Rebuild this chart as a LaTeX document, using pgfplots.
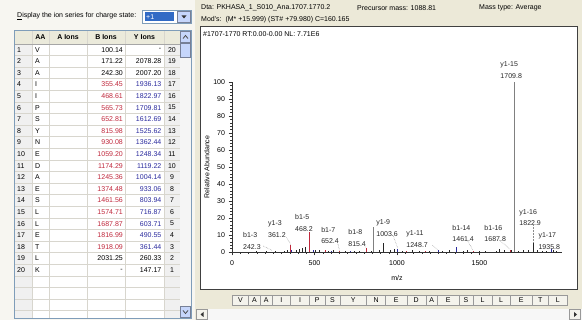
\documentclass[border=0pt]{standalone}
\usepackage{pgfplots}
\pgfplotsset{compat=1.18}
\usepackage{fontspec}
\setmainfont{Liberation Sans}
\definecolor{xpbg}{HTML}{ECE9D8}
\definecolor{leftbg}{HTML}{F7F6F1}
\definecolor{bred}{HTML}{C0283C}
\definecolor{yblue}{HTML}{2B2B9E}
\definecolor{gridc}{HTML}{D8D6CE}
\definecolor{hdr}{HTML}{EBEADB}
\definecolor{xpblue}{HTML}{C6D6FB}
\definecolor{xpborder}{HTML}{7F9DB9}
\definecolor{selblue}{HTML}{316AC5}
\definecolor{btn}{HTML}{F4F3EC}
\newcommand\fs{\fontsize{7}{8.5}\selectfont}
\tikzset{
  pklabel/.style={anchor=west, align=left, inner sep=0pt, font=\fontsize{7}{11.5}\selectfont, text=black!85},
  leader/.style={densely dotted, black!45, line width=0.5pt},
}
\newcommand\seqbtn[3]{%
  \draw[fill=btn, draw=black!40] (axis cs:#1,-25.3) rectangle (axis cs:#2,-31.4);
  \node[inner sep=0pt, font=\fs] at (axis cs:{(#1+#2)/2},-28.3) {#3};}
\begin{document}
\begin{tikzpicture}[font=\fs]
\begin{scope}[x=1pt,y=-1pt,every node/.style={inner sep=0pt}]
\path[use as bounding box] (0,0) rectangle (582,320);
% panels
\fill[leftbg] (0,0) rectangle (195,320);
\fill[xpbg] (195,0) rectangle (582,320);
% left header text and dropdown
\node[anchor=west] at (17,16) {\underline{D}isplay the ion series for charge state:};
\draw[xpborder, fill=white] (142.5,10.5) rectangle (191.5,23.5);
\fill[selblue] (144.5,12.5) rectangle (174,21.5);
\node[anchor=west, text=white] at (146,17) {+1};
\draw[fill=xpblue, draw=xpblue!60!black] (177.5,11.5) rectangle (190.5,22.5);
\fill[black!80] (181.5,15.5) -- (186.5,15.5) -- (184,18.5) -- cycle;
% table
\fill[white] (15,31) rectangle (180,318);
\fill[hdr] (15,31) rectangle (180,43.8);
\fill[black!6] (15,43.8) rectangle (32,318);
\fill[black!6] (164,43.8) rectangle (180,318);
\foreach \i in {0,...,23} \draw[gridc] (15,{43.8+\i*11.6}) -- (180,{43.8+\i*11.6});
\foreach \xx in {32,49,87,125,164} \draw[gridc] (\xx,31) -- (\xx,318);
\draw[black!35] (15,43.8) -- (180,43.8);
\node[font=\fs\bfseries] at (40.5,37.5) {AA};
\node[font=\fs\bfseries] at (68,37.5) {A Ions};
\node[font=\fs\bfseries] at (106,37.5) {B Ions};
\node[font=\fs\bfseries] at (144.5,37.5) {Y Ions};
\foreach \n/\aa/\b/\y/\k/\bc/\yc [count=\i from 0] in {
1/V/100.14/-/20/black/black,
2/A/171.22/2078.28/19/black/black,
3/A/242.30/2007.20/18/black/black,
4/I/355.45/1936.13/17/bred/yblue,
5/I/468.61/1822.97/16/bred/yblue,
6/P/565.73/1709.81/15/bred/yblue,
7/S/652.81/1612.69/14/bred/yblue,
8/Y/815.98/1525.62/13/bred/yblue,
9/N/930.08/1362.44/12/bred/yblue,
10/E/1059.20/1248.34/11/bred/yblue,
11/D/1174.29/1119.22/10/bred/yblue,
12/A/1245.36/1004.14/9/bred/yblue,
13/E/1374.48/933.06/8/bred/yblue,
14/S/1461.56/803.94/7/bred/yblue,
15/L/1574.71/716.87/6/bred/yblue,
16/L/1687.87/603.71/5/bred/yblue,
17/E/1816.99/490.55/4/bred/yblue,
18/T/1918.09/361.44/3/bred/yblue,
19/L/2031.25/260.33/2/black/black,
20/K/-/147.17/1/black/black} {
  \pgfmathsetmacro\yy{49.6+\i*11.6}
  \node[anchor=west] at (17,\yy) {\n};
  \node[anchor=west] at (35,\yy) {\aa};
  \node[anchor=east, text=\bc] at (123,\yy) {\b};
  \node[anchor=east, text=\yc] at (161.5,\yy) {\y};
  \node at (172,\yy) {\k};
}
% vertical scrollbar
\fill[black!4] (180,31) rectangle (191,318);
\draw[fill=xpblue, draw=xpblue!60!black] (180.5,31.5) rectangle (190.5,42.5);
\draw[black!70, line width=0.8pt] (183,38.5) -- (185.5,35.5) -- (188,38.5);
\draw[fill=xpblue, draw=xpblue!60!black] (180.5,43.5) rectangle (190.5,57);
\draw[fill=xpblue, draw=xpblue!60!black] (180.5,306.5) rectangle (190.5,317.5);
\draw[black!70, line width=0.8pt] (183,310.5) -- (185.5,313.5) -- (188,310.5);
\draw[xpborder] (14.5,30.5) rectangle (191.5,318.5);
% right header
\node[anchor=west] at (201,8) {Dta: PKHASA\_1\_S010\_Ana.1707.1770.2};
\node[anchor=west] at (357,8) {Precursor mass: 1088.81};
\node[anchor=west] at (479,8) {Mass type: Average};
\node[anchor=west] at (201,19.5) {Mod's:\ \ (M* +15.999) (ST\# +79.980) C=160.165};
% spectrum box
\draw[fill=white, draw=black!75] (200.5,26.5) rectangle (577,289);
\node[anchor=west] at (203,34.5) {\#1707-1770 RT:0.00-0.00 NL: 7.71E6};
% horizontal scrollbar
\fill[black!3] (196,309) rectangle (582,320);
\draw[fill=btn, draw=black!40] (196.5,309.5) rectangle (207.5,319.5);
\fill[black!80] (203.5,312) -- (203.5,317) -- (200.5,314.5) -- cycle;
\draw[fill=btn, draw=black!40] (569.5,309.5) rectangle (580.5,319.5);
\fill[black!80] (574,312) -- (574,317) -- (577,314.5) -- cycle;
\end{scope}
\begin{axis}[
  at={(232pt,-252pt)}, anchor=south west,
  width=330pt, height=170pt, scale only axis,
  xmin=0, xmax=2000, ymin=0, ymax=100,
  axis lines*=left, clip=false,
  axis line style={black!80, line width=0.6pt},
  xtick={0,500,1000,1500}, ytick={0,10,...,100},
  minor x tick num=9, minor y tick num=4,
  tick align=outside, major tick length=3.5pt, minor tick length=2pt,
  tick style={black!80, line width=0.5pt},
  tick label style={font=\fs},
  xticklabel style={yshift=-2pt},
  /pgf/number format/assume math mode=true,
  /pgf/number format/1000 sep={},
  xlabel={m/z}, ylabel={Relative Abundance},
  xlabel style={font=\fs, at={(axis description cs:0.5,0)}, anchor=center, yshift=-26pt},
  ylabel style={font=\fs, at={(axis description cs:-0.0758,0.5)}, anchor=center},
]
% unassigned peaks
\addplot[ycomb, draw=black!85, line width=0.6pt] coordinates {
(148,0.4)(205,0.6)(262,0.5)(318,0.8)(338,1.2)(388,1.0)(408,1.8)(428,2.6)(446,3.2)
(505,0.9)(532,1.2)(585,0.7)(612,1.0)(688,0.6)(742,0.8)(770,0.5)(842,0.7)(890,0.9)
(917,5.2)(958,1.2)(985,1.6)(1035,0.7)(1090,1.3)(1138,0.6)(1198,0.8)(1275,0.6)
(1318,1.1)(1402,0.6)(1428,0.9)(1498,0.7)(1538,0.8)(1600,0.6)(1622,1.6)(1652,0.9)
(1695,1.0)(1738,0.7)(1765,0.9)(1798,1.2)(1826,5.0)(1852,0.9)(1878,0.6)(1905,0.8)
(1945,1.1)(1968,0.6)};
\addplot[ycomb, draw=black!50, line width=0.8pt] coordinates {(856,14.8)(1709.8,100)};
% b ions
\addplot[ycomb, draw=bred, line width=0.8pt] coordinates {
(355.45,4.0)(468.61,11.5)(565.73,1.0)(652.81,0.6)(815.98,2.2)(1059.2,0.8)
(1174.29,0.5)(1461.56,0.8)(1687.87,1.4)};
% y ions
\addplot[ycomb, draw=yblue, line width=0.8pt] coordinates {
(361.44,1.0)(490.55,1.0)(603.71,0.7)(716.87,0.5)(1003.6,2.0)(1248.34,1.0)
(1362.44,3.2)(1935.8,1.5)};
% labels
\node[pklabel] at (axis cs:66.7,6.6) {b1-3\\242.3};
\node[pklabel] at (axis cs:218,13.4) {y1-3\\361.2};
\node[pklabel] at (axis cs:382,17.1) {b1-5\\468.2};
\node[pklabel] at (axis cs:540,9.8) {b1-7\\652.4};
\node[pklabel] at (axis cs:704,8.2) {b1-8\\815.4};
\node[pklabel] at (axis cs:874,14.2) {y1-9\\1003.6};
\node[pklabel] at (axis cs:1056,7.5) {y1-11\\1248.7};
\node[pklabel] at (axis cs:1335,10.8) {b1-14\\1461.4};
\node[pklabel] at (axis cs:1529,10.8) {b1-16\\1687.8};
\node[pklabel] at (axis cs:1626,107) {y1-15\\1709.8};
\node[pklabel] at (axis cs:1741,20.3) {y1-16\\1822.9};
\node[pklabel] at (axis cs:1857,6.3) {y1-17\\1935.8};
% leaders
\draw[leader] (axis cs:190,3.5) -- (axis cs:245,0.8);
\draw[leader] (axis cs:330,8.5) -- (axis cs:358,4.2);
\draw[leader] (axis cs:640,5.5) -- (axis cs:652,0.8);
\draw[leader] (axis cs:800,4.5) -- (axis cs:815,2.4);
\draw[leader] (axis cs:975,10) -- (axis cs:1005,2.2);
\draw[leader] (axis cs:1215,4) -- (axis cs:1248,1.2);
\draw[leader] (axis cs:1425,7) -- (axis cs:1461,1.0);
\draw[leader] (axis cs:1620,7) -- (axis cs:1687,1.6);
\draw[leader] (axis cs:1822.9,16.5) -- (axis cs:1822.9,5.2);
% sequence buttons
\seqbtn{1}{100.14}{V}
\seqbtn{100.14}{171.22}{A}
\seqbtn{171.22}{242.30}{A}
\seqbtn{242.30}{355.45}{I}
\seqbtn{355.45}{468.61}{I}
\seqbtn{468.61}{565.73}{P}
\seqbtn{565.73}{652.81}{S}
\seqbtn{652.81}{815.98}{Y}
\seqbtn{815.98}{930.08}{N}
\seqbtn{930.08}{1059.20}{E}
\seqbtn{1059.20}{1174.29}{D}
\seqbtn{1174.29}{1245.36}{A}
\seqbtn{1245.36}{1374.48}{E}
\seqbtn{1374.48}{1461.56}{S}
\seqbtn{1461.56}{1574.71}{L}
\seqbtn{1574.71}{1687.87}{L}
\seqbtn{1687.87}{1816.99}{E}
\seqbtn{1816.99}{1918.09}{T}
\seqbtn{1918.09}{2031.25}{L}
\end{axis}
\end{tikzpicture}
\end{document}
